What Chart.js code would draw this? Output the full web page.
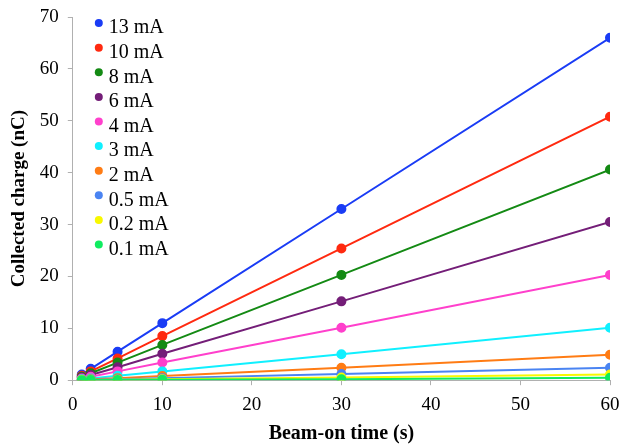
<!DOCTYPE html>
<html>
<head>
<meta charset="utf-8">
<script src="https://cdn.jsdelivr.net/npm/chart.js@4"></script>
<style>
  html, body { margin: 0; padding: 0; background: #fff; }
  #wrap { width: 625px; height: 444px; position: relative; }
</style>
</head>
<body>
<div id="wrap"><canvas id="chargeChart"></canvas></div>
<script>
const beamTimes = [1, 2, 5, 10, 30, 60];
const currentLabels = ['13 mA', '10 mA', '8 mA', '6 mA', '4 mA', '3 mA', '2 mA', '0.5 mA', '0.2 mA', '0.1 mA'];
const seriesColors = ['#1a3cf5', '#ff2a10', '#148a14', '#741e78', '#ff40cc', '#10f0ff', '#ff7c14', '#4a84f2', '#f8f800', '#10ec60'];
const charge13 = [1.1, 2.2, 5.5, 11.0, 33.0, 66.0];
const charge10 = [0.85, 1.7, 4.2, 8.5, 25.4, 50.8];
const charge8 = [0.68, 1.35, 3.4, 6.8, 20.3, 40.6];
const charge6 = [0.5, 1.0, 2.5, 5.1, 15.2, 30.5];
const charge4 = [0.34, 0.68, 1.7, 3.4, 10.1, 20.3];
const charge3 = [0.17, 0.34, 0.85, 1.7, 5.0, 10.1];
const charge2 = [0.08, 0.16, 0.4, 0.8, 2.4, 4.9];
const charge05 = [0.04, 0.08, 0.2, 0.4, 1.2, 2.4];
const charge02 = [0.02, 0.04, 0.08, 0.17, 0.5, 1.1];
const charge01 = [0.01, 0.02, 0.04, 0.07, 0.2, 0.45];
const allCharges = [charge13, charge10, charge8, charge6, charge4, charge3, charge2, charge05, charge02, charge01];

const serif = '"Liberation Serif", "Times New Roman", serif';
const axisGray = '#b0b0b0';

const datasets = allCharges.map((values, i) => ({
  label: currentLabels[i],
  data: values.map((v, j) => ({ x: beamTimes[j], y: v })),
  borderColor: seriesColors[i],
  backgroundColor: seriesColors[i],
  borderWidth: 2,
  pointRadius: 4,
  pointHoverRadius: 4,
  showLine: true,
  tension: 0,
  order: allCharges.length - i,
}));

// legend drawn inside the plot, top-left
const insideLegend = {
  id: 'insideLegend',
  afterDatasetsDraw(chart) {
    const { ctx, chartArea } = chart;
    const x0 = chartArea.left + 26;
    const y0 = chartArea.top + 6;
    const rowH = 24.6;
    ctx.save();
    ctx.font = '20px ' + serif;
    ctx.textBaseline = 'middle';
    chart.data.datasets.forEach((ds, i) => {
      const y = y0 + i * rowH;
      ctx.fillStyle = ds.borderColor;
      ctx.beginPath();
      ctx.arc(x0, y, 4, 0, Math.PI * 2);
      ctx.fill();
      ctx.fillStyle = '#000';
      ctx.fillText(ds.label, x0 + 10, y + 5);
    });
    ctx.restore();
  },
};

new Chart(document.getElementById('chargeChart').getContext('2d'), {
  type: 'scatter',
  data: { datasets },
  options: {
    responsive: true,
    maintainAspectRatio: false,
    animation: false,
    layout: { padding: { top: 0, right: 0, left: 8, bottom: 0 } },
    plugins: {
      legend: { display: false },
      tooltip: { enabled: false },
    },
    scales: {
      x: {
        type: 'linear',
        min: 0,
        max: 60,
        afterFit(scale) { scale.paddingRight = 15; },
        ticks: { stepSize: 10, color: '#000', font: { family: serif, size: 19 }, padding: 8 },
        grid: { drawOnChartArea: false, drawTicks: true, tickLength: 5, color: axisGray },
        border: { display: true, color: axisGray },
        title: { display: true, text: 'Beam-on time (s)', color: '#000', font: { family: serif, size: 20, weight: 'bold', lineHeight: 1.0 }, padding: { top: 0, bottom: 0 } },
      },
      y: {
        type: 'linear',
        min: 0,
        max: 70,
        ticks: { stepSize: 10, color: '#000', font: { family: serif, size: 19, lineHeight: 0.85 }, padding: 9 },
        grid: { drawOnChartArea: false, drawTicks: true, tickLength: 5, color: axisGray },
        border: { display: true, color: axisGray },
        title: { display: true, text: 'Collected charge (nC)', color: '#000', font: { family: serif, size: 19, weight: 'bold' }, padding: { top: 0, bottom: 0 } },
      },
    },
  },
  plugins: [insideLegend],
});
</script>
</body>
</html>
